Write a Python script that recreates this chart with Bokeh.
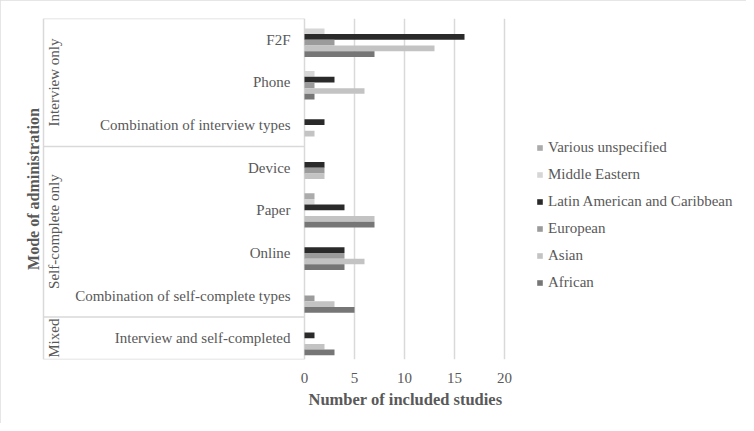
import numpy as np
from bokeh.plotting import figure
from bokeh.models import (Range1d, FixedTicker, ColumnDataSource, Legend, LegendItem, Title)
from bokeh.core.properties import value
from bokeh.embed import file_html
from bokeh.resources import INLINE

# ---- data ----
categories = ["F2F", "Phone", "Combination of interview types",
              "Device", "Paper", "Online",
              "Combination of self-complete types",
              "Interview and self-completed"]
groups = ["Interview only", "Self-complete only", "Mixed"]
group_sizes = [3, 4, 1]

series_names = ["Various unspecified", "Middle Eastern",
                "Latin American and Caribbean", "European", "Asian", "African"]
various_unspecified = [0, 0, 0, 0, 1, 0, 0, 0]
middle_eastern = [2, 1, 0, 0, 1, 0, 0, 0]
latin_american = [16, 3, 2, 2, 4, 4, 0, 1]
european = [3, 1, 0, 2, 0, 4, 1, 0]
asian = [13, 6, 1, 2, 7, 6, 3, 2]
african = [7, 1, 0, 0, 7, 4, 5, 3]
series_values = [various_unspecified, middle_eastern, latin_american,
                 european, asian, african]
series_colors = ["#ababab", "#d6d6d6", "#2a2a2a", "#9b9b9b", "#c3c3c3", "#767676"]

x_ticks = [0, 5, 10, 15, 20]

# ---- style constants ----
FONT = "Liberation Serif"
TXT = "#595959"
LINE = "#d9d9d9"

p = figure(width=746, height=423, output_backend="svg", toolbar_location=None,
           x_range=Range1d(-29.2, 43.6), y_range=Range1d(len(categories), 0),
           min_border_left=12, min_border_right=6, min_border_top=18,
           min_border_bottom=64)
p.outline_line_color = None
p.background_fill_color = "white"
p.border_fill_color = "white"
p.styles = {"outline": "2px solid #dedede", "outline-offset": "-2px"}

p.yaxis.visible = False
p.ygrid.visible = False

ticker = FixedTicker(ticks=x_ticks)
p.xaxis.ticker = ticker
p.xaxis.bounds = (0, 20)
p.xaxis.axis_line_color = None
p.xaxis.major_tick_line_color = None
p.xaxis.minor_tick_line_color = None
p.xaxis.major_tick_out = 0
p.xaxis.major_tick_in = 0
p.xaxis.major_label_standoff = 13
p.xaxis.major_label_text_font = FONT
p.xaxis.major_label_text_font_size = "15px"
p.xaxis.major_label_text_color = TXT

p.xgrid.ticker = ticker
p.xgrid.grid_line_color = LINE
p.xgrid.grid_line_width = 1.5

# x-axis title (placed below the axis, aligned over the 0-20 span)
xtitle = Title(text="Number of included studies", align="left", offset=296,
               text_font=FONT, text_font_style="bold", text_font_size="16.5px",
               text_color=TXT, standoff=5)
p.add_layout(xtitle, "below")

# ---- bars ----
n = len(categories)
centers = np.arange(n) + 0.5
slot = 0.134
ns = len(series_names)
items = []
for j, (name, vals, col) in enumerate(zip(series_names, series_values, series_colors)):
    src = ColumnDataSource(dict(y=centers + (j - (ns - 1) / 2) * slot, right=vals))
    r = p.hbar(y="y", right="right", left=0, height=slot, source=src,
               fill_color=col, line_color=None)
    items.append(LegendItem(label=name, renderers=[r]))

# ---- category labels ----
cat_src = ColumnDataSource(dict(x=[-1.4] * n, y=centers, t=categories))
p.text(x="x", y="y", text="t", source=cat_src, text_align="right",
       text_baseline="middle", text_font=value(FONT), text_font_size="15px",
       text_color=TXT)

# ---- group brackets and labels ----
bounds = np.concatenate([[0], np.cumsum(group_sizes)])
left_x = -26.1
p.segment(x0=[left_x] * len(bounds), x1=[0] * len(bounds), y0=bounds, y1=bounds,
          line_color=LINE, line_width=1.5)
p.segment(x0=[left_x], x1=[left_x], y0=[0], y1=[n], line_color=LINE, line_width=1.5)
g_centers = (bounds[:-1] + bounds[1:]) / 2
p.text(x=[-25.1] * len(groups), y=g_centers, text=groups, angle=np.pi / 2,
       text_align="center", text_baseline="middle", text_font=value(FONT),
       text_font_size="15px", text_color=TXT)

# y-axis title
p.text(x=[-27.1], y=[n / 2], text=["Mode of administration"], angle=np.pi / 2,
       text_align="center", text_baseline="middle", text_font=value(FONT),
       text_font_size="16px", text_font_style="bold", text_color=TXT)

# ---- legend ----
legend = Legend(items=items, location=(524, 67), padding=0, margin=0,
                label_standoff=5, glyph_width=7, glyph_height=7,
                label_height=20, spacing=7,
                label_text_font=FONT, label_text_font_size="15px",
                label_text_color=TXT, background_fill_alpha=0,
                border_line_color=None)
p.add_layout(legend)

open("out.html", "w").write(file_html(p, INLINE))
